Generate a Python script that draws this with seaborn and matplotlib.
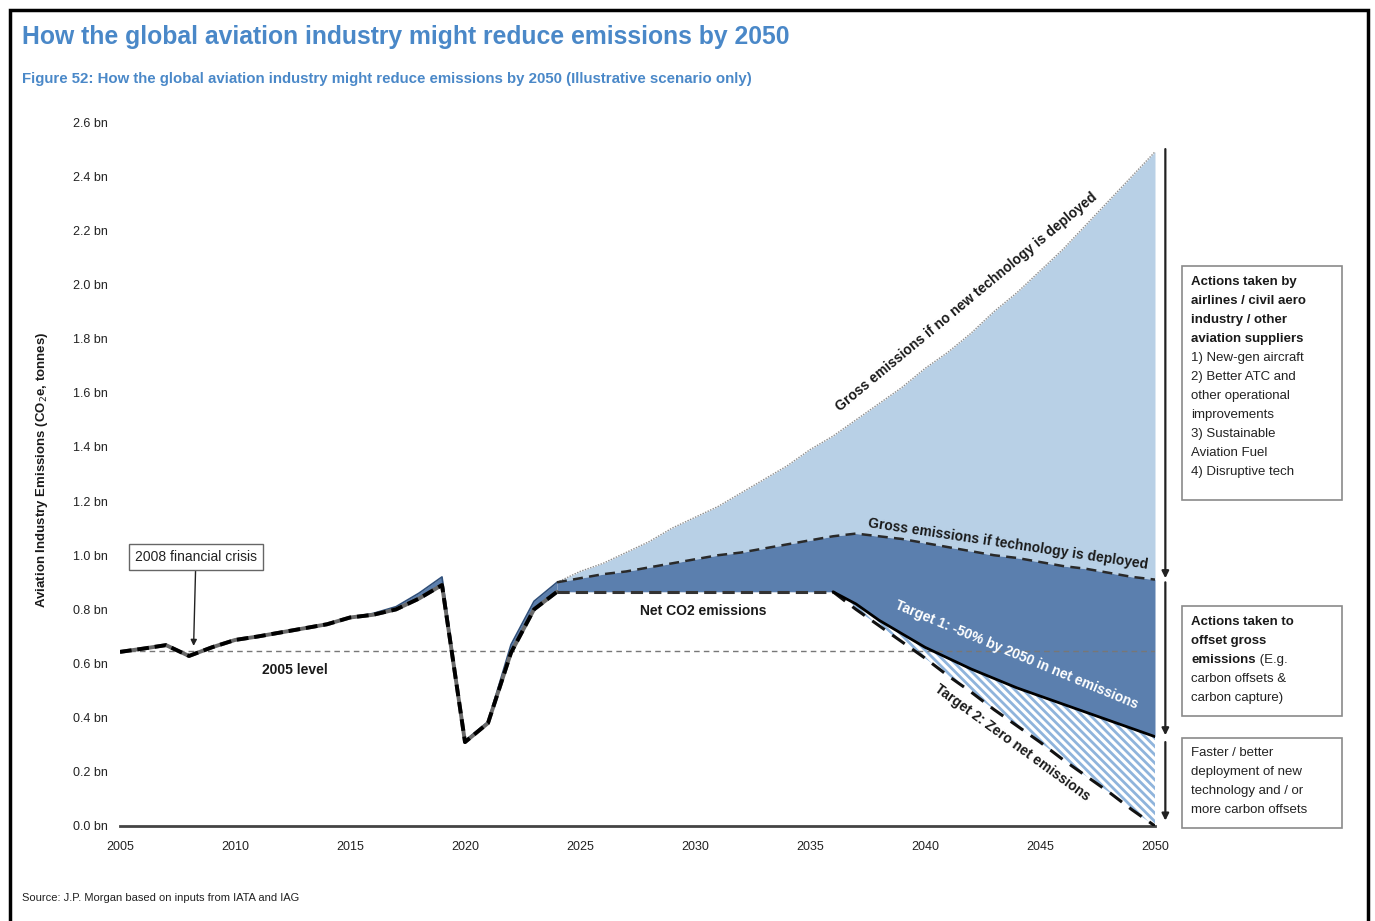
import matplotlib
matplotlib.use("Agg")
import matplotlib.pyplot as plt
import seaborn as sns
import pandas as pd
from matplotlib.patches import Rectangle
from matplotlib.text import Annotation

# ---- data (bn tonnes CO2e) ----
years_hist = list(range(2005, 2025))
gross_hist = [0.643, 0.655, 0.668, 0.628, 0.660, 0.687, 0.700, 0.715, 0.730, 0.745,
              0.770, 0.785, 0.810, 0.860, 0.920, 0.315, 0.385, 0.670, 0.830, 0.900]
net_hist = [0.643, 0.655, 0.668, 0.628, 0.660, 0.687, 0.700, 0.715, 0.730, 0.745,
            0.770, 0.780, 0.800, 0.840, 0.890, 0.310, 0.380, 0.640, 0.800, 0.865]

years_proj = list(range(2024, 2051))
gross_no_tech = [0.90, 0.94, 0.97, 1.01, 1.05, 1.10, 1.14, 1.18, 1.23, 1.28, 1.33, 1.39,
                 1.44, 1.50, 1.56, 1.62, 1.69, 1.75, 1.82, 1.90, 1.97, 2.05, 2.13, 2.22,
                 2.31, 2.40, 2.49]
gross_with_tech = [0.900, 0.915, 0.930, 0.940, 0.955, 0.970, 0.985, 1.000, 1.010, 1.025,
                   1.040, 1.055, 1.070, 1.080, 1.070, 1.060, 1.045, 1.030, 1.015, 1.000,
                   0.990, 0.975, 0.960, 0.950, 0.935, 0.920, 0.910]

years_flat = list(range(2024, 2037))
net_flat = [0.865, 0.865, 0.865, 0.865, 0.865, 0.865, 0.865, 0.865, 0.865, 0.865,
            0.865, 0.865, 0.865]

years_target = list(range(2036, 2051))
target1 = [0.865, 0.82, 0.76, 0.71, 0.66, 0.62, 0.58, 0.545, 0.51, 0.48, 0.45, 0.42,
           0.39, 0.36, 0.33]
target2 = [0.865, 0.80, 0.74, 0.68, 0.62, 0.555, 0.495, 0.43, 0.37, 0.31, 0.245, 0.185,
           0.125, 0.06, 0.0]

level_2005 = 0.645
x_ticks = [2005, 2010, 2015, 2020, 2025, 2030, 2035, 2040, 2045, 2050]
y_ticks = [0.0, 0.2, 0.4, 0.6, 0.8, 1.0, 1.2, 1.4, 1.6, 1.8, 2.0, 2.2, 2.4, 2.6]
y_tick_labels = ["0.0 bn", "0.2 bn", "0.4 bn", "0.6 bn", "0.8 bn", "1.0 bn", "1.2 bn",
                 "1.4 bn", "1.6 bn", "1.8 bn", "2.0 bn", "2.2 bn", "2.4 bn", "2.6 bn"]

# ---- style ----
sns.set_style("white")
plt.rcParams['font.family'] = ['Liberation Sans', 'DejaVu Sans']
plt.rcParams['hatch.linewidth'] = 2.0

LIGHT = '#b8d0e6'
MID = '#5b7fae'
STRIPE = '#8fb4dc'
TITLE_BLUE = '#4a88c8'
W, H = 1375, 921

fig = plt.figure(figsize=(W / 100, H / 100), dpi=100)
ax = fig.add_axes([120 / W, 1 - 826 / H, (1155 - 120) / W, (826 - 122) / H])


def fx(px):
    return px / W


def fy(py):
    return 1 - py / H


net_proj = net_flat + target1[1:]

# filled areas
ax.fill_between(years_hist, net_hist, gross_hist, color=MID, lw=0, zorder=1)
ax.fill_between(years_proj, gross_with_tech, gross_no_tech, color=LIGHT, lw=0, zorder=1)
ax.fill_between(years_proj, net_proj, gross_with_tech, color=MID, lw=0, zorder=1)
ax.fill_between(years_target, target2, target1, facecolor='white', edgecolor=STRIPE,
                hatch='\\' * 4, lw=0, zorder=1)

# 2005 reference level
ax.axhline(level_2005, color='#777777', lw=1.0, ls=(0, (4, 3)), zorder=2)

# lines
df_hist = pd.DataFrame({'year': years_hist, 'gross': gross_hist, 'net': net_hist})
sns.lineplot(data=df_hist, x='year', y='gross', ax=ax, color='#2f4f7a', lw=1.2, zorder=3)
sns.lineplot(data=df_hist, x='year', y='net', ax=ax, color='#6a6a6a', lw=2.8, zorder=3)
sns.lineplot(data=df_hist, x='year', y='net', ax=ax, color='black', lw=2.8,
             ls=(0, (3, 1.5)), zorder=4)

df_proj = pd.DataFrame({'year': years_proj, 'no_tech': gross_no_tech,
                        'with_tech': gross_with_tech})
sns.lineplot(data=df_proj, x='year', y='no_tech', ax=ax, color='#8c8c8c', lw=1.0,
             ls=(0, (1, 1)), zorder=3)
sns.lineplot(data=df_proj, x='year', y='with_tech', ax=ax, color='#2a2a2a', lw=1.8,
             ls=(0, (4, 2.5)), zorder=3)

df_flat = pd.DataFrame({'year': years_flat, 'net': net_flat})
sns.lineplot(data=df_flat, x='year', y='net', ax=ax, color='#333333', lw=2.2,
             ls=(0, (4, 2)), zorder=4)

df_t = pd.DataFrame({'year': years_target, 't1': target1, 't2': target2})
sns.lineplot(data=df_t, x='year', y='t2', ax=ax, color='#111111', lw=2.2,
             ls=(0, (5, 3)), zorder=4)
sns.lineplot(data=df_t, x='year', y='t1', ax=ax, color='black', lw=2.0, zorder=5)

# axes
ax.set_xlim(2005, 2050)
ax.set_ylim(0, 2.6)
ax.set_xticks(x_ticks)
ax.set_xticklabels([str(x) for x in x_ticks], fontsize=9, color='#222222')
ax.set_yticks(y_ticks)
ax.set_yticklabels(y_tick_labels, fontsize=9, color='#222222')
ax.set_xlabel('')
ax.set_ylabel('')
for side in ['top', 'right', 'left']:
    ax.spines[side].set_visible(False)
ax.spines['bottom'].set_color('#444444')
ax.spines['bottom'].set_linewidth(2.0)
ax.tick_params(axis='x', direction='inout', length=5, width=1.5, color='#333333', pad=8)
ax.tick_params(axis='y', length=0, pad=9)
ax.grid(False)

# in-plot labels
bold = dict(fontweight='bold', color='#1a1a1a', fontsize=10)
ax.text(2012.6, 0.576, '2005 level', ha='center', va='center', **bold)
ax.text(2030.35, 0.794, 'Net CO2 emissions', ha='center', va='center', **bold)
ax.text(2041.8, 1.935, 'Gross emissions if no new technology is deployed', rotation=39.6,
        rotation_mode='anchor', ha='center', va='center', **bold)
ax.text(2043.6, 1.041, 'Gross emissions if technology is deployed', rotation=-8.5,
        rotation_mode='anchor', ha='center', va='center', **bold)
ax.text(2044.0, 0.631, 'Target 1: -50% by 2050 in net emissions', rotation=-22.6,
        rotation_mode='anchor', ha='center', va='center', fontweight='bold',
        color='white', fontsize=10)
ax.text(2043.8, 0.306, 'Target 2: Zero net emissions', rotation=-36,
        rotation_mode='anchor', ha='center', va='center', **bold)

# 2008 crisis callout
ax.annotate('2008 financial crisis', xy=(2008.2, 0.665), xytext=(2008.3, 0.993),
            ha='center', va='center', fontsize=10, color='#222222',
            bbox=dict(boxstyle='square,pad=0.45', fc='white', ec='#666666', lw=1),
            arrowprops=dict(arrowstyle='-|>', color='#222222', lw=1, mutation_scale=9,
                            shrinkA=0, shrinkB=0))

# right-hand arrows
arrow_x = 2050.45
for top, bottom in [(2.50, 0.915), (0.90, 0.335), (0.31, 0.02)]:
    ax.annotate('', xy=(arrow_x, bottom), xytext=(arrow_x, top),
                arrowprops=dict(arrowstyle='-|>', color='#222222', lw=1.6,
                                mutation_scale=10, shrinkA=0, shrinkB=0),
                annotation_clip=False)

# right-hand explanation boxes
for (x0, y0, x1, y1) in [(1182, 266, 1342, 500), (1182, 606, 1342, 716),
                         (1182, 738, 1342, 828)]:
    fig.patches.append(Rectangle((fx(x0), fy(y1)), fx(x1 - x0), (y1 - y0) / H,
                                 transform=fig.transFigure, fill=False,
                                 ec='#8a8a8a', lw=1.2))

tx = fx(1191)
box_fs = 9.5
line_h = 19
box1_bold = ['Actions taken by', 'airlines / civil aero', 'industry / other',
             'aviation suppliers']
box1_norm = ['1) New-gen aircraft', '2) Better ATC and', 'other operational',
             'improvements', '3) Sustainable', 'Aviation Fuel', '4) Disruptive tech']
for i, s in enumerate(box1_bold):
    fig.text(tx, fy(282 + i * line_h), s, fontsize=box_fs, fontweight='bold',
             color='#1a1a1a', va='center')
for i, s in enumerate(box1_norm):
    fig.text(tx, fy(282 + (i + 4) * line_h), s, fontsize=box_fs, color='#222222',
             va='center')

box2_bold = ['Actions taken to', 'offset gross', 'emissions']
last = None
for i, s in enumerate(box2_bold):
    last = fig.text(tx, fy(622 + i * line_h), s, fontsize=box_fs, fontweight='bold',
                    color='#1a1a1a', va='center')
# normal-weight continuation on the same line as the last bold word
eg = Annotation(' (E.g.', xy=(1.0, 0.5), xycoords=last, va='center', ha='left',
                fontsize=box_fs, color='#222222')
fig.add_artist(eg)
for i, s in enumerate(['carbon offsets &', 'carbon capture)']):
    fig.text(tx, fy(622 + (i + 3) * line_h), s, fontsize=box_fs, color='#222222',
             va='center')

for i, s in enumerate(['Faster / better', 'deployment of new', 'technology and / or',
                       'more carbon offsets']):
    fig.text(tx, fy(753 + i * line_h), s, fontsize=box_fs, color='#222222', va='center')

# y-axis title
fig.text(fx(42), fy(470), 'Aviation Industry Emissions (CO$_2$e, tonnes)', rotation=90,
         ha='center', va='center', fontsize=9.5, fontweight='bold', color='#1a1a1a')

# headings and source
fig.text(fx(22), fy(37), 'How the global aviation industry might reduce emissions by 2050',
         fontsize=17.8, fontweight='bold', color=TITLE_BLUE, va='center')
fig.text(fx(22), fy(79),
         'Figure 52: How the global aviation industry might reduce emissions by 2050 '
         '(Illustrative scenario only)',
         fontsize=10.8, fontweight='bold', color=TITLE_BLUE, va='center')
fig.text(fx(22), fy(898), 'Source: J.P. Morgan based on inputs from IATA and IAG',
         fontsize=8, color='#222222', va='center')

# outer frame
fig.patches.append(Rectangle((fx(10), fy(925)), fx(1358), 915 / H,
                             transform=fig.transFigure, fill=False, ec='black', lw=2.5,
                             clip_on=False))

fig.savefig('out.png', dpi=100)
